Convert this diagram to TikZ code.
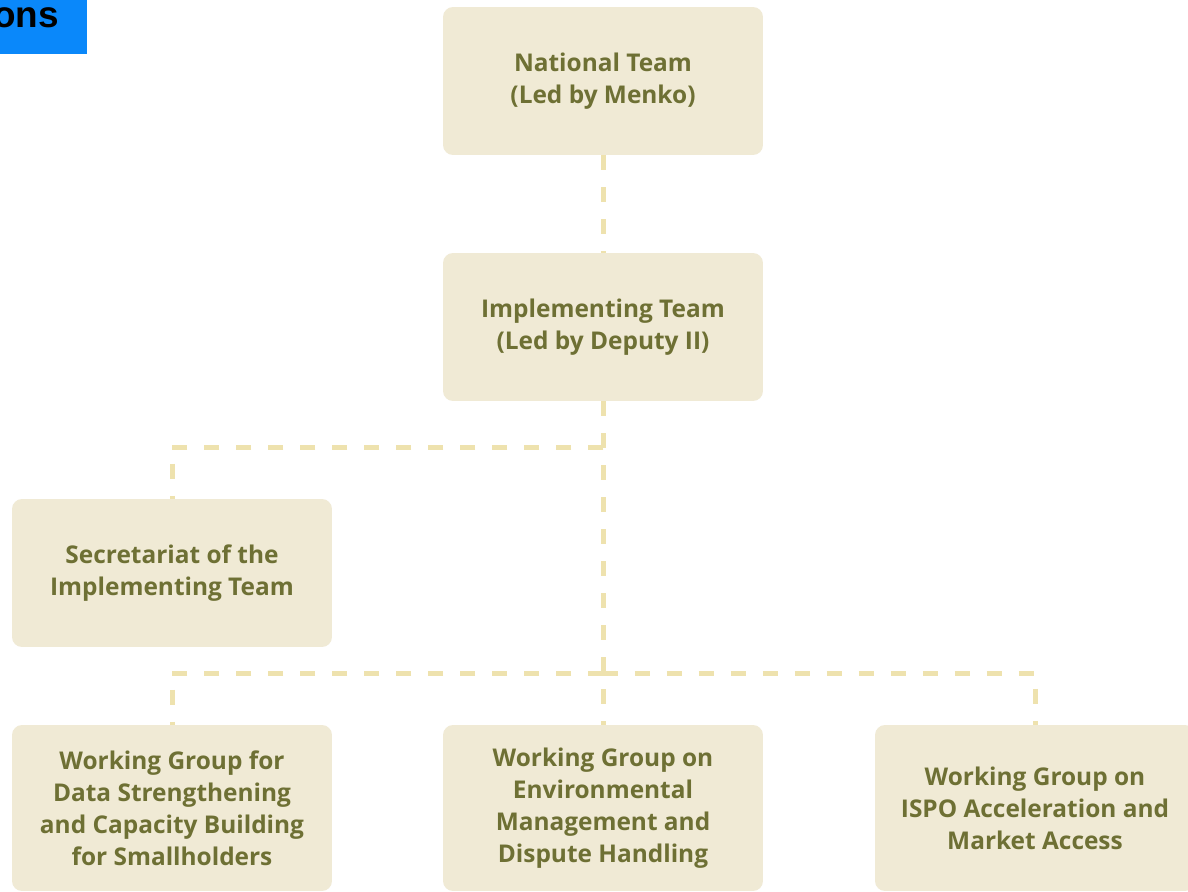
\documentclass[tikz,border=0pt]{standalone}
\usepackage{fontspec}
\setmainfont{Open Sans}
\newfontfamily\tagfont{Liberation Sans}
\definecolor{boxfill}{HTML}{F0EAD5}
\definecolor{boxtext}{HTML}{6E7034}
\definecolor{linkcol}{HTML}{EEE2AE}
\definecolor{tagblue}{HTML}{0A88FA}
\tikzset{
    unit/.style={fill=boxfill, rounded corners=.2cm, minimum width=6.4cm, minimum height=2.96cm,
        align=center, text=boxtext, font=\bfseries\fontsize{13.9}{18.2}\selectfont},
    wgunit/.style={unit, minimum height=3.32cm},
    link/.style={draw=linkcol, line width=.1cm, dash pattern=on .3cm off .34cm}
}
\begin{document}
\begin{tikzpicture}
    \def\F{.02} % one pixel of the reference
    \clip (0,0) rectangle (1188*\F, -892*\F);
    \fill[white] (0,0) rectangle (1188*\F, -892*\F);

    % clipped heading tag
    \fill[tagblue] (0,0) rectangle (87*\F, -54*\F);
    \node (tag) [anchor=base east, inner sep=0, font=\tagfont\bfseries\fontsize{21}{24}\selectfont] at (59*\F, -27*\F) {ons};

    \node (nat) [unit] at (603*\F, -81*\F) {National Team\\(Led by Menko)};
    \node (impl) [unit] at (603*\F, -327*\F) {Implementing Team\\(Led by Deputy II)};
    \node (sec) [unit] at (172*\F, -573*\F) {Secretariat of the\\Implementing Team};

    \node (wg1) [wgunit] at (172*\F, -808*\F) {Working Group for\\Data Strengthening\\and Capacity Building\\for Smallholders};
    \node (wg2) [wgunit] at (603*\F, -808*\F) {Working Group on\\Environmental\\Management and\\Dispute Handling};
    \node (wg3) [wgunit] at (1035*\F, -808*\F) {Working Group on\\ISPO Acceleration and\\Market Access};

    \coordinate (j1) at (603*\F, -447*\F);
    \coordinate (j2) at (603*\F, -673*\F);

    \draw[link] (nat) -- (impl);
    \draw[link] (impl) -- (wg2);
    \draw[link] (j1) -| (sec);
    \draw[link] (j2) -| (wg1);
    \draw[link] (j2) -| (wg3);
\end{tikzpicture}
\end{document}
